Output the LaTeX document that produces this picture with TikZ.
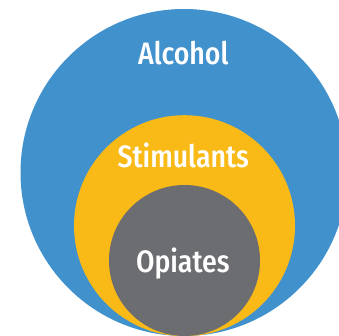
\documentclass[tikz,border=0pt]{standalone}
\usepackage{fontspec}
\setmainfont[FakeStretch=0.95]{Fira Sans Condensed Medium}
\definecolor{cblue}{RGB}{65,145,205}
\definecolor{cyellow}{RGB}{249,185,23}
\definecolor{cgray}{RGB}{108,109,113}
\begin{document}
\begin{tikzpicture}[x=1pt,y=1pt,
  lbl/.style={text=white,font=\fontsize{31}{31}\selectfont,inner sep=0pt,anchor=base}]
\useasboundingbox (0,0) rectangle (339,336);
\clip (0,0) rectangle (339,336);
\fill[cblue] (184,163.5) circle[radius=163.5];
\fill[cyellow] (184.5,110.3) circle[radius=110.5];
\fill[cgray] (184.5,75.5) circle[radius=75.5];
\node[lbl] (alcohol) at (183.3,336-64.3) {Alcohol};
\node[lbl] (stim) at (183.3,336-167.3) {Stimulants};
\node[lbl] (opiates) at (182.8,336-272.7) {Opiates};
\end{tikzpicture}
\end{document}
